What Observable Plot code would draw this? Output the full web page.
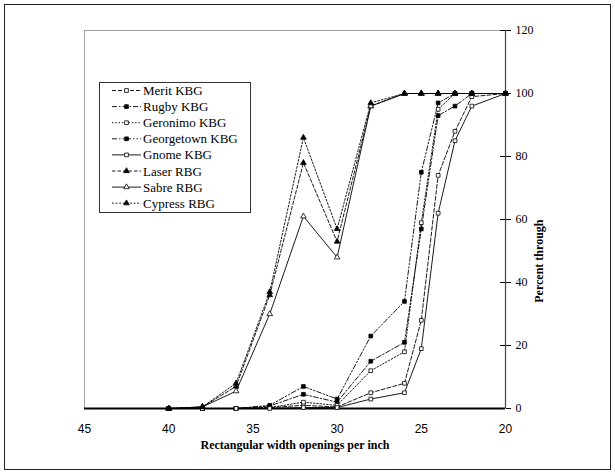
<!DOCTYPE html>
<html>
<head>
<meta charset="utf-8">
<script src="https://cdn.jsdelivr.net/npm/d3@7"></script>
<script src="https://cdn.jsdelivr.net/npm/@observablehq/plot@0.6"></script>
<style>
  body { margin: 0; background: #fff; }
  #wrap { position: relative; width: 615px; height: 476px; }
  #outer { position: absolute; left: 4px; top: 4px; width: 605px; height: 464px; border: 1px solid #222; pointer-events: none; }
  #legend { position: absolute; left: 99px; top: 82px; width: 152px; height: 131px; border: 1px solid #333; background: #fff; box-sizing: border-box; }
</style>
</head>
<body>
<div id="wrap"><div id="outer"></div></div>
<script>
// ---- data ----
const openings = [40, 38, 36, 34, 32, 30, 28, 26, 25, 24, 23, 22, 20];
const seriesNames = ["Merit KBG", "Rugby KBG", "Geronimo KBG", "Georgetown KBG", "Gnome KBG", "Laser RBG", "Sabre RBG", "Cypress RBG"];
const meritKBG      = [0, 0, 0, 0.3, 1,   0.5, 5,  8,  28, 74, 88, 99, 100];
const rugbyKBG      = [0, 0, 0, 0.8, 4.5, 2,   15, 21, 57, 93, 96, 100, 100];
const geronimoKBG   = [0, 0, 0, 0.3, 2,   1,   12, 18, 59, 95, 100, 100, 100];
const georgetownKBG = [0, 0, 0, 1,   7,   3,   23, 34, 75, 97, 100, 100, 100];
const gnomeKBG      = [0, 0, 0, 0,   0.3, 0.3, 3,  5,  19, 62, 85, 96, 100];
const laserRBG      = [0, 0.5, 7,   36, 78, 53, 96, 100, 100, 100, 100, 100, 100];
const sabreRBG      = [0, 0.5, 5.5, 30, 61, 48, 96, 100, 100, 100, 100, 100, 100];
const cypressRBG    = [0, 0.5, 8,   37, 86, 57, 97, 100, 100, 100, 100, 100, 100];
const xTicks = [45, 40, 35, 30, 25, 20];
const yTicks = [0, 20, 40, 60, 80, 100, 120];
const xLabel = "Rectangular width openings per inch";
const yLabel = "Percent through";

// ---- styles per series ----
const values = [meritKBG, rugbyKBG, geronimoKBG, georgetownKBG, gnomeKBG, laserRBG, sabreRBG, cypressRBG];
const styles = [
  {dash: "4,2",           symbol: "square",   filled: false},
  {dash: "5,2,1.5,2",     symbol: "square",   filled: true},
  {dash: "1.5,1.8",       symbol: "square",   filled: false},
  {dash: "5,2,1.5,2,1.5,2", symbol: "square", filled: true},
  {dash: null,            symbol: "square",   filled: false},
  {dash: "3.5,2",         symbol: "triangle", filled: true},
  {dash: null,            symbol: "triangle", filled: false},
  {dash: "1.8,1.8",       symbol: "triangle", filled: true}
];

const serif = "'Liberation Serif', 'Times New Roman', serif";
const sans = "'Liberation Sans', Arial, sans-serif";
const R = 2.1;

const marks = [
  Plot.frame({stroke: "#8a8a8a", strokeWidth: 0.8}),
  Plot.ruleX([20], {stroke: "#444", strokeWidth: 1.2}),
  Plot.ruleY([0], {stroke: "#000", strokeWidth: 2})
];
seriesNames.forEach((name, k) => {
  const data = openings.map((x, i) => ({x, y: values[k][i], name}));
  const s = styles[k];
  marks.push(Plot.line(data, {x: "x", y: "y", stroke: "#000", strokeWidth: 0.9, strokeDasharray: s.dash || undefined}));
});
seriesNames.forEach((name, k) => {
  const data = openings.map((x, i) => ({x, y: values[k][i], name}));
  const s = styles[k];
  marks.push(Plot.dot(data, {x: "x", y: "y", symbol: () => s.symbol, r: R, fill: s.filled ? "#000" : "#fff", stroke: "#000", strokeWidth: 0.8}));
});
marks.push(
  Plot.axisX({ticks: xTicks, tickSize: 0, tickPadding: 16, fontFamily: sans, fontSize: 12, label: null}),
  Plot.axisY({anchor: "right", ticks: yTicks, tickSize: 5, tickPadding: 5, fontFamily: serif, fontSize: 12, label: null}),
  Plot.axisY({anchor: "left", ticks: yTicks, tickSize: 5, tickFormat: () => "", dx: 421, label: null}),
  Plot.text([xLabel], {text: d => d, frameAnchor: "bottom", dy: 40, fontFamily: serif, fontWeight: "bold", fontSize: 12}),
  Plot.text([yLabel], {text: d => d, frameAnchor: "right", dx: 34, dy: 0, rotate: -90, fontFamily: serif, fontWeight: "bold", fontSize: 12})
);

const chart = Plot.plot({
  width: 615,
  height: 476,
  marginLeft: 84,
  marginRight: 110,
  marginTop: 30,
  marginBottom: 68,
  x: {domain: [45, 20]},
  y: {domain: [0, 120]},
  style: {background: "transparent", overflow: "visible"},
  marks
});
const wrap = document.getElementById("wrap");
wrap.insertBefore(chart, wrap.firstChild);

// ---- legend ----
const legend = document.createElement("div");
legend.id = "legend";
wrap.appendChild(legend);
const lsvg = d3.select(legend).append("svg").attr("width", 150).attr("height", 129);
seriesNames.forEach((name, k) => {
  const s = styles[k];
  const y = 7.5 + 16.1 * k;
  const g = lsvg.append("g").attr("transform", `translate(0,${y})`);
  g.append("line").attr("x1", 12).attr("x2", 41).attr("y1", 0).attr("y2", 0)
    .attr("stroke", "#000").attr("stroke-width", 0.9).attr("stroke-dasharray", s.dash);
  g.append("path").attr("transform", "translate(26.5,0)")
    .attr("d", d3.symbol(s.symbol === "square" ? d3.symbolSquare : d3.symbolTriangle, Math.PI * R * R)())
    .attr("fill", s.filled ? "#000" : "#fff").attr("stroke", "#000").attr("stroke-width", 0.8);
  g.append("text").attr("x", 43).attr("y", 0).attr("dy", "0.35em")
    .attr("font-family", serif).attr("font-size", 13).text(name);
});
</script>
</body>
</html>
